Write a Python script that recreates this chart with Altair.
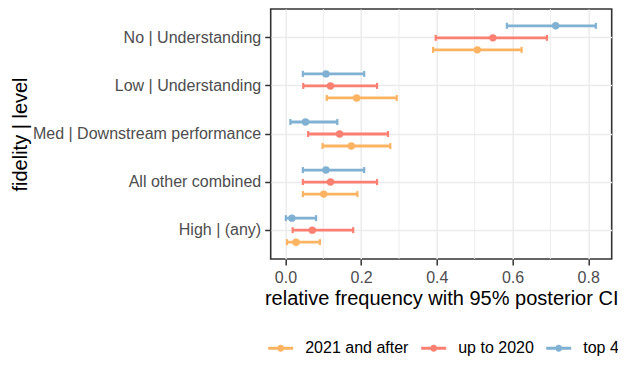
import altair as alt
import pandas as pd

categories = ["No | Understanding", "Low | Understanding", "Med | Downstream performance",
              "All other combined", "High | (any)"]
groups = ["2021 and after", "up to 2020", "top 4"]
colors = ["#FDB462", "#FB8072", "#80B1D3"]
dodge_order = ["top 4", "up to 2020", "2021 and after"]

est_2021 = [0.507, 0.188, 0.174, 0.101, 0.028]
low_2021 = [0.390, 0.109, 0.098, 0.046, 0.004]
high_2021 = [0.624, 0.294, 0.277, 0.190, 0.091]

est_2020 = [0.548, 0.119, 0.143, 0.119, 0.071]
low_2020 = [0.397, 0.047, 0.060, 0.046, 0.019]
high_2020 = [0.691, 0.242, 0.271, 0.242, 0.179]

est_top4 = [0.714, 0.107, 0.053, 0.107, 0.017]
low_top4 = [0.585, 0.046, 0.013, 0.046, 0.001]
high_top4 = [0.820, 0.208, 0.137, 0.208, 0.081]

major_breaks = [0.0, 0.2, 0.4, 0.6, 0.8]
minor_breaks = [0.1, 0.3, 0.5, 0.7]

rows = []
for g, e, lo, hi in [(groups[0], est_2021, low_2021, high_2021),
                     (groups[1], est_2020, low_2020, high_2020),
                     (groups[2], est_top4, low_top4, high_top4)]:
    for c, ev, lv, hv in zip(categories, e, lo, hi):
        rows.append({"level": c, "group": g, "est": ev, "low": lv, "high": hv})
df = pd.DataFrame(rows)

XTITLE = "relative frequency with 95% posterior CI"
FONT = "Liberation Sans"
xscale = alt.Scale(domain=[-0.039, 0.862], nice=False, zero=False)
xaxis = alt.Axis(values=major_breaks, format=".1f", grid=True, gridColor="#EBEBEB",
                 gridWidth=1.5, domain=False, ticks=True, tickColor="#333333", tickWidth=1.5,
                 tickSize=6, labelPadding=4, labelFontSize=16, labelColor="#4D4D4D",
                 titleFontSize=20, titleFontWeight="normal", titleColor="black",
                 titleY=45.7, titleBaseline="alphabetic")

yenc = alt.Y("level:N", sort=categories,
             scale=alt.Scale(domain=categories, paddingInner=0, paddingOuter=0.1),
             axis=alt.Axis(title="fidelity | level", grid=True, gridColor="#EBEBEB", gridWidth=1.5,
                           bandPosition=0.5, domain=False, ticks=True, tickColor="#333333",
                           tickWidth=1.5, tickSize=6, labelPadding=4, labelFontSize=16,
                           labelColor="#4D4D4D", labelLimit=400,
                           titleFontSize=20, titleFontWeight="normal", titleColor="black",
                           titleAngle=270, titleX=-244.5, titleY=125, titleAlign="center",
                           titleBaseline="alphabetic"))
yoff = alt.YOffset("group:N", scale=alt.Scale(type="point", domain=dodge_order, padding=2.7))

legend_symbol = ("M-1,-0.12L1,-0.12L1,0.12L-1,0.12Z "
                 "M0.28,0A0.28,0.28 0 1,1 -0.28,0A0.28,0.28 0 1,1 0.28,0Z")
legend = alt.Legend(title=None, orient="none", direction="horizontal",
                    legendX=-2.5, legendY=326.5, symbolType=legend_symbol,
                    symbolSize=625, symbolStrokeWidth=0, symbolOpacity=1,
                    labelFontSize=16, labelColor="black", labelOffset=12,
                    columnPadding=12, padding=0, labelLimit=300)
color = alt.Color("group:N", scale=alt.Scale(domain=groups, range=colors), legend=legend)

minor = alt.Chart(pd.DataFrame({"m": minor_breaks})).mark_rule(
    color="#EBEBEB", strokeWidth=0.9).encode(
    x=alt.X("m:Q", scale=xscale, axis=xaxis, title=XTITLE))

base = alt.Chart(df)
bars = base.mark_rule(strokeWidth=2.8).encode(
    x=alt.X("low:Q", scale=xscale, axis=xaxis, title=XTITLE),
    x2="high:Q", y=yenc, yOffset=yoff, color=color)
cap_lo = base.mark_tick(size=6, thickness=2.2, opacity=1).encode(
    x=alt.X("low:Q", scale=xscale, axis=xaxis, title=XTITLE),
    y=yenc, yOffset=yoff, color=color)
cap_hi = base.mark_tick(size=6, thickness=2.2, opacity=1).encode(
    x=alt.X("high:Q", scale=xscale, axis=xaxis, title=XTITLE),
    y=yenc, yOffset=yoff, color=color)
points = base.mark_point(filled=True, size=55, opacity=1, strokeWidth=0).encode(
    x=alt.X("est:Q", scale=xscale, axis=xaxis, title=XTITLE),
    y=yenc, yOffset=yoff, color=color)

chart = alt.layer(minor, bars, cap_lo, cap_hi, points).properties(
    width=341, height=250,
    autosize=alt.AutoSizeParams(type="none"),
    padding={"left": 262.7, "top": 1, "right": 6.3, "bottom": 99},
    background="white",
).configure(font=FONT).configure_view(stroke="#333333", strokeWidth=1.6)

chart.save("out.html", embed_options={"renderer": "svg", "actions": False})
